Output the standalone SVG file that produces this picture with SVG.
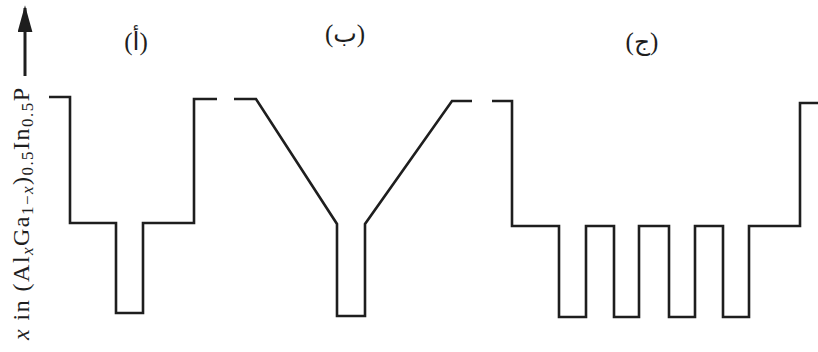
<svg xmlns="http://www.w3.org/2000/svg" width="818" height="352" viewBox="0 0 818 352">
<style>
.ln{fill:none;stroke:#1e1e1e;stroke-width:2.6;stroke-linejoin:miter;stroke-linecap:butt}
.lbl{font-family:"Liberation Serif","DejaVu Sans",serif;font-size:25px;fill:#1e1e1e;text-anchor:middle}
.ax{font-family:"Liberation Serif",serif;font-size:24px;fill:#1e1e1e}
.sub{font-size:17px}
</style>
<defs>
<marker id="ah" viewBox="0 0 10 10" refX="9" refY="5" markerWidth="9" markerHeight="5" markerUnits="strokeWidth" orient="auto" preserveAspectRatio="none">
<path d="M0,0 L10,5 L0,10 Z" fill="#1e1e1e"/>
</marker>
</defs>
<g id="axis">
<line x1="25" y1="76" x2="25" y2="8" stroke="#1e1e1e" stroke-width="3" marker-end="url(#ah)"/>
<text class="ax" transform="translate(29,340) rotate(-90)" textLength="252" lengthAdjust="spacing"><tspan font-style="italic">x</tspan> in (Al<tspan class="sub" font-style="italic" dy="4">x</tspan><tspan dy="-4">Ga</tspan><tspan class="sub" dy="4">1−<tspan font-style="italic">x</tspan></tspan><tspan dy="-4">)</tspan><tspan class="sub" dy="4">0.5</tspan><tspan dy="-4">In</tspan><tspan class="sub" dy="4">0.5</tspan><tspan dy="-4">P</tspan></text>
</g>
<g id="panel-a">
<text class="lbl" x="136" y="50">(أ)</text>
<path class="ln" d="M49,97 H70 V223 H116 V313 H143 V223 H194 V99 H217"/>
</g>
<g id="panel-b">
<text class="lbl" x="345" y="42">(ب)</text>
<path class="ln" d="M234,99 H256 L337,224 V316 H365 V224 L452,101 H472"/>
</g>
<g id="panel-c">
<text class="lbl" x="642" y="50">(ج)</text>
<path class="ln" d="M492,101 H512 V226 H559 V317 H586 V226 H614 V317 H639 V226 H669 V317 H695 V226 H723 V317 H749 V226 H800 V103 H818"/>
</g>
</svg>
